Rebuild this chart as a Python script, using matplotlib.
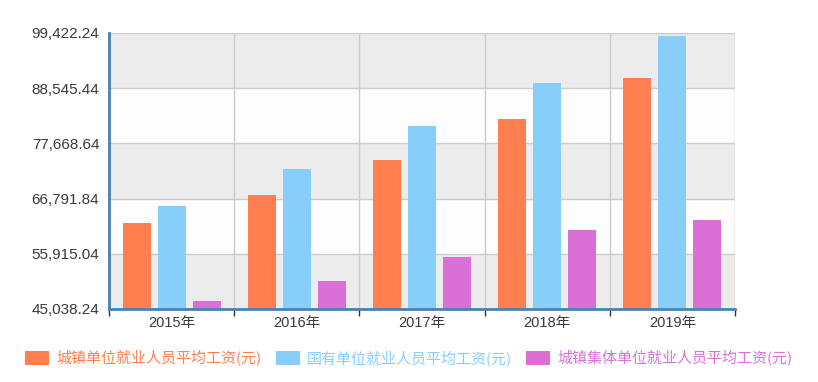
import matplotlib.pyplot as plt
import numpy as np

plt.rcParams['font.family'] = ['Noto Sans CJK SC', 'DejaVu Sans']

years = ["2015年", "2016年", "2017年", "2018年", "2019年"]
urban = [62029, 67569, 74318, 82413, 90501]
state = [65296, 72538, 81114, 89474, 98899]
collective = [46607, 50527, 55243, 60664, 62612]
labels = ["城镇单位就业人员平均工资(元)", "国有单位就业人员平均工资(元)", "城镇集体单位就业人员平均工资(元)"]
colors = ["#ff7f50", "#87cefa", "#da70d6"]

ymin, ymax = 45038.24, 99422.24
yticks = np.linspace(ymin, ymax, 6)

fig = plt.figure(figsize=(8.18, 3.82), dpi=100)
ax = fig.add_axes([109 / 818, 73 / 382, 626 / 818, 276 / 382])

# alternating bands
for i in range(5):
    c = "#ececec" if i % 2 == 0 else "#fdfdfd"
    ax.axhspan(yticks[i], yticks[i + 1], color=c, zorder=0, lw=0)
for y in yticks[1:]:
    ax.axhline(y, color="#cccccc", lw=1.0, zorder=1)
for xv in range(1, 6):
    ax.axvline(xv - 0.5, color="#cccccc", lw=1.0, zorder=1)

x = np.arange(len(years))
w = 0.224
step = 0.28
for k, (vals, col, lab) in enumerate(zip([urban, state, collective], colors, labels)):
    ax.bar(x + (k - 1) * step, np.array(vals) - ymin, bottom=ymin, width=w,
           color=col, label=lab, zorder=2)

ax.set_xlim(-0.5, 4.5)
ax.set_ylim(ymin, ymax)
ax.set_yticks(yticks)
ax.set_yticklabels([f"{v:,.2f}" for v in yticks], color="#3a3a3a", fontsize=11,
                   family=['Liberation Sans'])
ax.set_xticks(x)
ax.set_xticklabels(years, color="#3a3a3a", fontsize=10.5,
                   family=['Liberation Sans', 'Noto Sans CJK SC'])
ax.tick_params(axis="y", length=0, pad=7)
ax.tick_params(axis="x", length=0, pad=5)
ax.set_xticks(np.arange(-0.5, 5, 1), minor=True)
ax.tick_params(axis="x", which="minor", length=5, color="#333333", width=1)

for s in ["top", "right"]:
    ax.spines[s].set_visible(False)
ax.spines["left"].set_color("#4682b4")
ax.spines["left"].set_linewidth(2)
ax.spines["bottom"].set_color("#4682b4")
ax.spines["bottom"].set_linewidth(2)
ax.spines["left"].set_zorder(3)
ax.spines["bottom"].set_zorder(3)

leg = fig.legend(loc="center", bbox_to_anchor=(0.5, 24 / 382), ncol=3, frameon=False,
                 fontsize=10.8, handlelength=1.6, handleheight=1.0, columnspacing=0.95,
                 handletextpad=0.47, labelcolor=colors)

fig.savefig("out.png", dpi=100)
